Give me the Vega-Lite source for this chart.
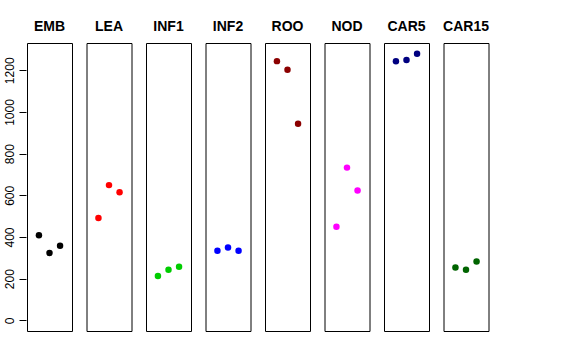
{
  "$schema": "https://vega.github.io/schema/vega-lite/v6.json",
  "padding": {"left": 3, "top": 20, "right": 5, "bottom": 5},
  "background": "white",
  "data": {"values": [
    {"tissue": "EMB", "pos": -1, "value": 409},
    {"tissue": "EMB", "pos": 0, "value": 323},
    {"tissue": "EMB", "pos": 1, "value": 358},
    {"tissue": "LEA", "pos": -1, "value": 491},
    {"tissue": "LEA", "pos": 0, "value": 649},
    {"tissue": "LEA", "pos": 1, "value": 615},
    {"tissue": "INF1", "pos": -1, "value": 213},
    {"tissue": "INF1", "pos": 0, "value": 243},
    {"tissue": "INF1", "pos": 1, "value": 257},
    {"tissue": "INF2", "pos": -1, "value": 334},
    {"tissue": "INF2", "pos": 0, "value": 350},
    {"tissue": "INF2", "pos": 1, "value": 334},
    {"tissue": "ROO", "pos": -1, "value": 1244},
    {"tissue": "ROO", "pos": 0, "value": 1203},
    {"tissue": "ROO", "pos": 1, "value": 944},
    {"tissue": "NOD", "pos": -1, "value": 449},
    {"tissue": "NOD", "pos": 0, "value": 733},
    {"tissue": "NOD", "pos": 1, "value": 623},
    {"tissue": "CAR5", "pos": -1, "value": 1243},
    {"tissue": "CAR5", "pos": 0, "value": 1249},
    {"tissue": "CAR5", "pos": 1, "value": 1279},
    {"tissue": "CAR15", "pos": -1, "value": 254},
    {"tissue": "CAR15", "pos": 0, "value": 243},
    {"tissue": "CAR15", "pos": 1, "value": 283}
  ]},
  "facet": {
    "column": {
      "field": "tissue",
      "type": "nominal",
      "sort": ["EMB", "LEA", "INF1", "INF2", "ROO", "NOD", "CAR5", "CAR15"],
      "header": {"title": null, "labelFont": "Liberation Sans", "labelFontSize": 14, "labelFontWeight": "bold", "labelColor": "black", "labelPadding": 8}
    }
  },
  "spacing": 12.5,
  "spec": {
    "width": 45,
    "height": 288,
    "mark": {"type": "point", "filled": true, "opacity": 1, "size": 42},
    "encoding": {
      "x": {"field": "pos", "type": "quantitative", "scale": {"domain": [-2.13, 2.13], "nice": false, "zero": false}, "axis": null},
      "y": {"field": "value", "type": "quantitative",
        "scale": {"domain": [-51, 1331], "nice": false, "zero": false},
        "axis": {"title": null, "grid": false, "domain": false, "values": [0, 200, 400, 600, 800, 1000, 1200], "format": "d",
          "tickColor": "black", "tickSize": 7, "labelAngle": -90, "labelAlign": "center", "labelBaseline": "bottom",
          "labelFont": "Liberation Sans", "labelFontSize": 12, "labelColor": "black", "labelPadding": 3}},
      "color": {"field": "tissue", "type": "nominal", "legend": null,
        "scale": {"domain": ["EMB", "LEA", "INF1", "INF2", "ROO", "NOD", "CAR5", "CAR15"],
          "range": ["#000000", "#FF0000", "#00CD00", "#0000FF", "#8B0000", "#FF00FF", "#000080", "#006400"]}}
    }
  },
  "config": {"view": {"stroke": "black", "strokeWidth": 1}}
}
